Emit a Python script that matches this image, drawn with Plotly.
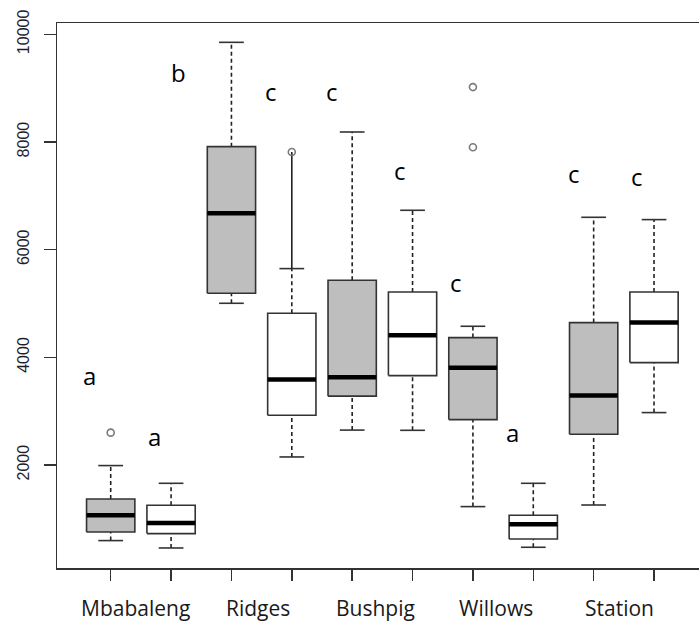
import plotly.graph_objects as go

# ---------------- data ----------------
sites = ["Mbabaleng", "Ridges", "Bushpig", "Willows", "Station"]
box_group = ["grey", "white", "grey", "white", "grey", "white", "grey", "white", "grey", "white"]

whisker_low = [598, 461, 5005, 2151, 2650, 2646, 1229, 474, 1259, 2975]
q1 = [758, 728, 5190, 2925, 3280, 3662, 2845, 628, 2572, 3903]
median = [1068, 925, 6676, 3590, 3630, 4410, 3810, 901, 3291, 4646]
q3 = [1371, 1254, 7914, 4819, 5432, 5215, 4368, 1068, 4646, 5215]
whisker_high = [1991, 1662, 9851, 5649, 8186, 6732, 4578, 1662, 6602, 6559]

outlier_box = [1, 4, 7, 7]
outlier_value = [2603, 7814, 9020, 7902]

letters = ["a", "a", "b", "c", "c", "c", "c", "a", "c", "c"]
letter_value = [3670, 2540, 9300, 8940, 8940, 7475, 5395, 2610, 7420, 7364]

y_ticks = [2000, 4000, 6000, 8000, 10000]

# ---------------- layout helpers (positions / styles) ----------------
letter_x = [0.644, 1.72, 2.13, 3.66, 4.67, 5.79, 6.72, 7.66, 8.67, 9.71]
site_label_x = [1.41, 3.44, 5.38, 7.38, 9.43]
BOX_HALF = 0.4
CAP_HALF = 0.205
FILL = {"grey": "#bebebe", "white": "#ffffff"}
EDGE = "#333333"

pos = list(range(1, len(q1) + 1))

fig = go.Figure()

# whiskers (dashed) and caps
wx, wy, cx, cy = [], [], [], []
for p, lo, a, b, hi in zip(pos, whisker_low, q1, q3, whisker_high):
    wx += [p, p, None, p, p, None]
    wy += [lo, a, None, b, hi, None]
    cx += [p - CAP_HALF, p + CAP_HALF, None, p - CAP_HALF, p + CAP_HALF, None]
    cy += [lo, lo, None, hi, hi, None]
fig.add_trace(go.Scatter(x=wx, y=wy, mode="lines",
                         line=dict(color="#222222", width=1.6, dash="4px,3px"),
                         hoverinfo="skip", showlegend=False))
fig.add_trace(go.Scatter(x=cx, y=cy, mode="lines",
                         line=dict(color="#333333", width=1.6),
                         hoverinfo="skip", showlegend=False))

# solid connector from the Ridges outlier down to its whisker cap
for b, v in zip(outlier_box, outlier_value):
    if b == 4:
        fig.add_trace(go.Scatter(x=[b, b], y=[whisker_high[b - 1], v], mode="lines",
                                 line=dict(color="#222222", width=1.6),
                                 hoverinfo="skip", showlegend=False))

# boxes
for p, a, b, g in zip(pos, q1, q3, box_group):
    fig.add_trace(go.Scatter(
        x=[p - BOX_HALF, p + BOX_HALF, p + BOX_HALF, p - BOX_HALF, p - BOX_HALF],
        y=[a, a, b, b, a], mode="lines", fill="toself",
        fillcolor=FILL[g], line=dict(color=EDGE, width=1.6),
        hoverinfo="skip", showlegend=False))

# medians
mx, my = [], []
for p, m in zip(pos, median):
    mx += [p - BOX_HALF, p + BOX_HALF, None]
    my += [m, m, None]
fig.add_trace(go.Scatter(x=mx, y=my, mode="lines",
                         line=dict(color="#000000", width=4.5),
                         hoverinfo="skip", showlegend=False))

# outliers
fig.add_trace(go.Scatter(x=outlier_box, y=outlier_value, mode="markers",
                         marker=dict(symbol="circle-open", size=7, color="#7a7a7a",
                                     line=dict(width=1.6, color="#7a7a7a")),
                         hoverinfo="skip", showlegend=False))

annotations = []
for t, x, v in zip(letters, letter_x, letter_value):
    annotations.append(dict(x=x, y=v, xref="x", yref="y", text=t, showarrow=False,
                            xanchor="center", yanchor="middle",
                            font=dict(family="Open Sans", size=24, color="#000000")))
for s, x in zip(sites, site_label_x):
    annotations.append(dict(x=x, y=-0.073, xref="x", yref="paper", text=s, showarrow=False,
                            xanchor="center", yanchor="middle",
                            font=dict(family="Open Sans", size=21, color="#1a1a1a")))

fig.update_layout(
    width=699, height=621,
    margin=dict(l=57, r=0, t=23, b=53),
    paper_bgcolor="white", plot_bgcolor="white",
    annotations=annotations,
    xaxis=dict(range=[0.1105, 10.745], tickvals=pos, ticktext=[""] * len(pos),
               ticks="outside", ticklen=11, tickwidth=1.5, tickcolor=EDGE,
               showline=True, linecolor=EDGE, linewidth=1.5, mirror=True,
               showgrid=False, zeroline=False),
    yaxis=dict(range=[89, 10210], tickvals=y_ticks, ticktext=[str(v) for v in y_ticks],
               ticks="outside", ticklen=12, tickwidth=1.5, tickcolor=EDGE,
               showline=True, linecolor=EDGE, linewidth=1.5, mirror=False,
               tickangle=-90, ticklabelstandoff=8,
               tickfont=dict(family="Liberation Sans", size=16, color="#1e1e2a"),
               showgrid=False, zeroline=False),
)

fig.write_html("out.html",
               config={"displayModeBar": False, "staticPlot": True},
               post_script="document.body.style.margin='0';document.body.style.overflow='hidden';")
